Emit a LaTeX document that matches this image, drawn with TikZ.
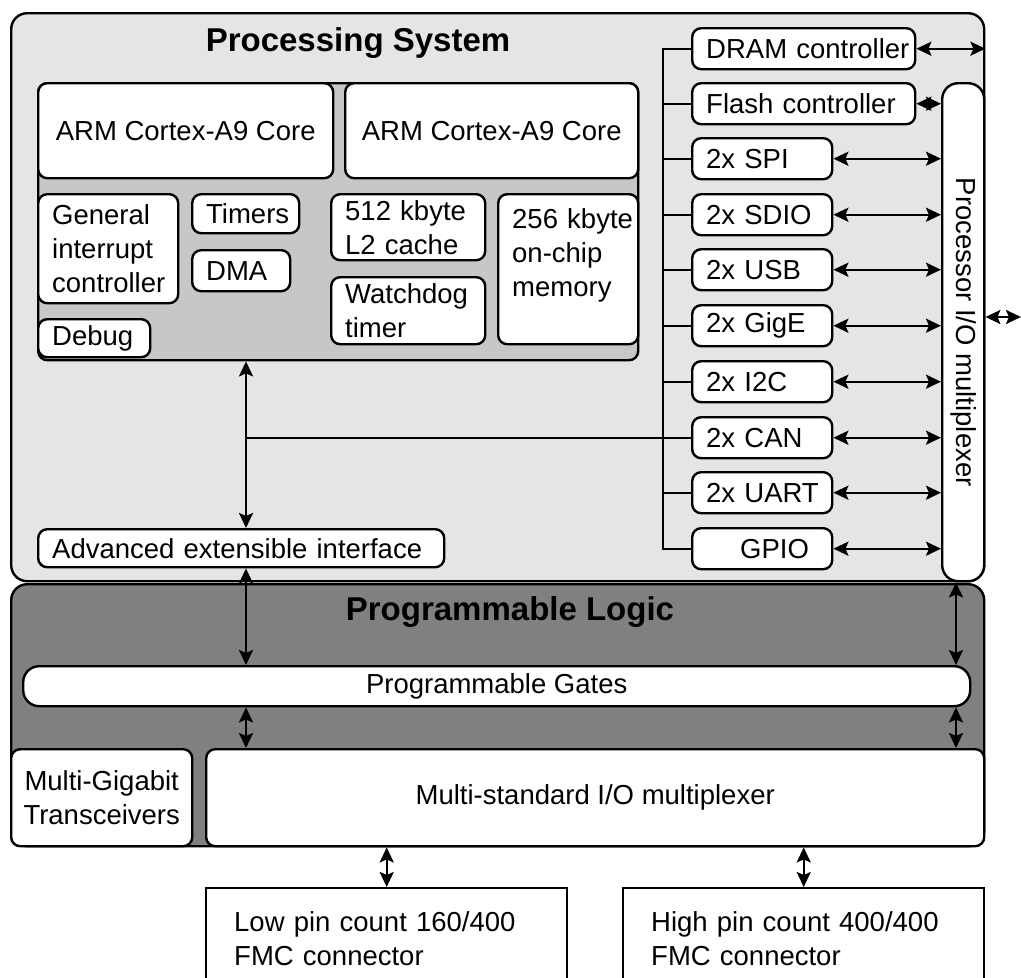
\documentclass[tikz,border=0pt]{standalone}
\usepackage{fontspec}
\setmainfont{Liberation Sans}
\usepackage{graphicx}
\usepackage{tikz}
\usetikzlibrary{arrows.meta}
\hyphenpenalty=10000
\exhyphenpenalty=10000
\newcommand{\fsn}{\fontsize{27.5}{34}\selectfont}
\newcommand{\fsb}{\fontsize{33}{40}\selectfont\bfseries}

\begin{document}
\begin{tikzpicture}[x=1pt,y=-1pt]
\tikzstyle{every node}+=[inner sep=0pt, font=\fsn]
\tikzstyle{blk}=[draw=black, fill=white, line width=2.4pt, rounded corners=9pt, anchor=north west, inner xsep=14pt, align=left]
\tikzstyle{cblk}=[blk, align=center, inner xsep=0pt]
\tikzstyle{bus}=[line width=2.4pt]
\tikzstyle{bi}=[bus, >={Stealth[length=15pt,width=14pt,inset=3pt]}, <->]
\useasboundingbox (0,0) rectangle (1021,978);
\clip (0,0) rectangle (1021,978);
\node[cblk, fill=black!10, rounded corners=16pt, minimum width=973pt, minimum height=568pt] (ps) at (10,12) {};
\node[font=\fsb] (pstitle) at (358,43) {Processing System};
\node[cblk, fill=black!22, minimum width=600pt, minimum height=277pt] (cpu) at (37,82) {};
\node[cblk, minimum width=295pt, minimum height=95pt] (armA) at (37,82) {ARM Cortex-A9 Core};
\node[cblk, minimum width=293pt, minimum height=95pt] (armB) at (344,82) {ARM Cortex-A9 Core};
\node[blk, text width=112pt, minimum height=109pt] (gic) at (37,193) {General\\interrupt\\controller};
\node[blk, text width=79pt, minimum height=39pt] (timers) at (191,193) {Timers};
\node[blk, text width=70pt, minimum height=41pt] (dma) at (191,249) {DMA};
\node[blk, text width=84pt, minimum height=38pt] (debug) at (37,318) {Debug};
\node[blk, text width=126pt, minimum height=66pt] (ltwo) at (330,193) {512~kbyte\\L2~cache};
\node[blk, text width=126pt, minimum height=67pt] (wdog) at (330,276) {Watchdog\\timer};
\node[blk, text width=112pt, minimum height=150pt] (ocm) at (497,193) {256~kbyte\\on-chip\\memory\\\mbox{}};
\node[blk, text width=378pt, minimum height=38pt] (axi) at (37,528) {Advanced~extensible~interface};
\node[blk, text width=195pt, minimum height=41pt] (dram) at (691,27) {DRAM~controller};
\node[blk, text width=195pt, minimum height=41pt] (flash) at (691,82) {Flash~controller};
\node[blk, text width=112pt, minimum height=41pt] (spi) at (691,137) {2x~SPI};
\node[blk, text width=112pt, minimum height=41pt] (sdio) at (691,193) {2x~SDIO};
\node[blk, text width=112pt, minimum height=41pt] (usb) at (691,248) {2x~USB};
\node[blk, text width=112pt, minimum height=41pt] (gige) at (691,304) {2x~GigE};
\node[blk, text width=112pt, minimum height=41pt] (iic) at (691,360) {2x~I2C};
\node[blk, text width=112pt, minimum height=41pt] (can) at (691,416) {2x~CAN};
\node[blk, text width=112pt, minimum height=41pt] (uart) at (691,471) {2x~UART};
\node[blk, text width=112pt, minimum height=41pt] (gpio) at (691,527) {\hspace*{34pt}GPIO};
\node[cblk, rounded corners=16pt, minimum width=42pt, minimum height=498pt] (iomux) at (941,82) {\rotatebox{-90}{Processor I/O multiplexer}};
\node[cblk, fill=black!50, rounded corners=16pt, minimum width=973pt, minimum height=262pt] (pl) at (10,583) {};
\node[font=\fsb] (pltitle) at (510,612) {Programmable Logic};
\node[cblk, rounded corners=16pt, minimum width=947pt, minimum height=40pt] (gates) at (22,665) {Programmable Gates};
\node[cblk, minimum width=181pt, minimum height=97pt] (mgt) at (10,748) {Multi-Gigabit\\Transceivers};
\node[cblk, minimum width=778pt, minimum height=97pt] (msio) at (205,748) {Multi-standard I/O multiplexer};
\node[blk, rounded corners=0pt, inner xsep=28pt, text width=305pt, minimum height=101pt] (lpc) at (205,887) {Low~pin~count~160/400\\FMC~connector};
\node[blk, rounded corners=0pt, inner xsep=28pt, text width=305pt, minimum height=101pt] (hpc) at (622,887) {High~pin~count~400/400\\FMC~connector};
\coordinate (axix) at (246,0);
\coordinate (plx) at (956,0);
\coordinate (busx) at (663,0);
\coordinate (ext) at (1021,317);
\draw[bi] (cpu.south -| axix) -- (axi.north -| axix);
\draw[bus] (axix |- can) -- (can.west);
\draw[bus] (dram.west) -| (busx |- gpio) -- (gpio.west);
\draw[bus] (busx |- flash) -- (flash.west);
\draw[bus] (busx |- spi) -- (spi.west);
\draw[bus] (busx |- sdio) -- (sdio.west);
\draw[bus] (busx |- usb) -- (usb.west);
\draw[bus] (busx |- gige) -- (gige.west);
\draw[bus] (busx |- iic) -- (iic.west);
\draw[bus] (busx |- uart) -- (uart.west);
\draw[bi] (dram.east) -- (dram.east -| ps.east);
\draw[bi] (flash.east) -- (flash.east -| iomux.west);
\draw[bi] (spi.east) -- (spi.east -| iomux.west);
\draw[bi] (sdio.east) -- (sdio.east -| iomux.west);
\draw[bi] (usb.east) -- (usb.east -| iomux.west);
\draw[bi] (gige.east) -- (gige.east -| iomux.west);
\draw[bi] (iic.east) -- (iic.east -| iomux.west);
\draw[bi] (can.east) -- (can.east -| iomux.west);
\draw[bi] (uart.east) -- (uart.east -| iomux.west);
\draw[bi] (gpio.east) -- (gpio.east -| iomux.west);
\draw[bi] (iomux.east |- ext) -- (ext);
\draw[bi] (axi.south -| axix) -- (gates.north -| axix);
\draw[bi] (iomux.south -| plx) -- (gates.north -| plx);
\draw[bi] (gates.south -| axix) -- (msio.north -| axix);
\draw[bi] (gates.south -| plx) -- (msio.north -| plx);
\draw[bi] (msio.south -| lpc.north) -- (lpc.north);
\draw[bi] (msio.south -| hpc.north) -- (hpc.north);
\end{tikzpicture}
\end{document}
